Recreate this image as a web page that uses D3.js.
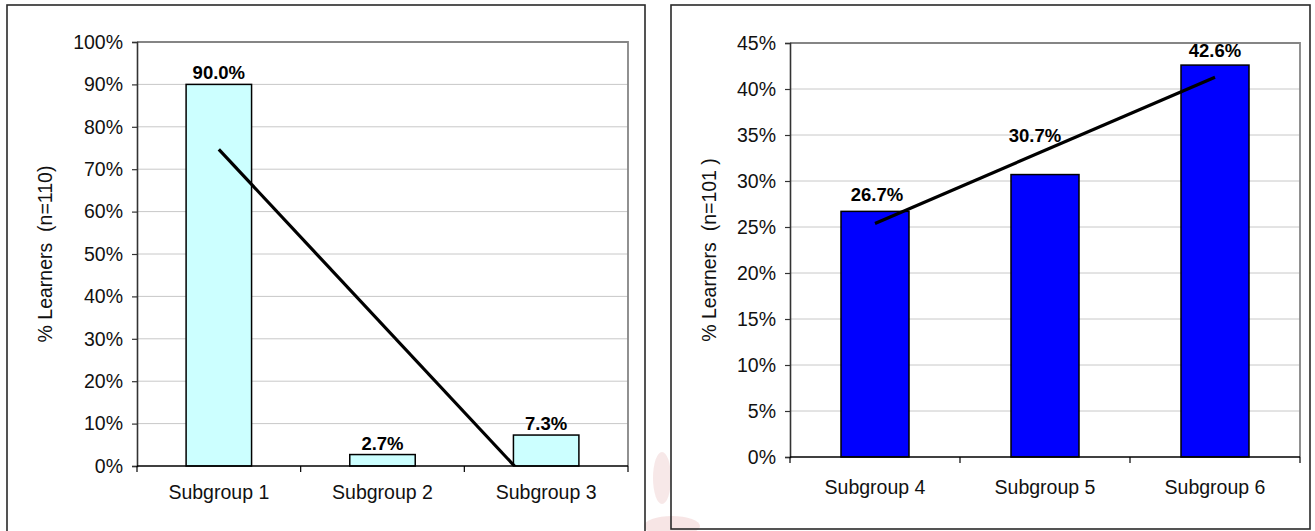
<!DOCTYPE html>
<html>
<head>
<meta charset="utf-8">
<script src="https://cdn.jsdelivr.net/npm/d3@7"></script>
<style>
  html, body { margin: 0; padding: 0; background: #fff; }
  svg { display: block; font-family: "Liberation Sans", Arial, sans-serif; }
</style>
</head>
<body>
<svg id="chart" width="1315" height="531"></svg>
<script>
// ---------- data ----------
const categoriesA = ["Subgroup 1", "Subgroup 2", "Subgroup 3"];
const valuesA = [90.0, 2.7, 7.3];
const ticksA = [0, 10, 20, 30, 40, 50, 60, 70, 80, 90, 100];
const titleA = "% Learners  (n=110)";

const categoriesB = ["Subgroup 4", "Subgroup 5", "Subgroup 6"];
const valuesB = [26.7, 30.7, 42.6];
const ticksB = [0, 5, 10, 15, 20, 25, 30, 35, 40, 45];
const titleB = "% Learners  (n=101 )";

// ---------- layout ----------
const svg = d3.select("#chart");
let clipId = 0;
const FS = 19.5;

function drawChart(cfg) {
  const g = svg.append("g");
  // outer frame
  g.append("rect")
    .attr("x", cfg.box[0]).attr("y", cfg.box[1])
    .attr("width", cfg.box[2]).attr("height", cfg.box[3])
    .attr("fill", "none").attr("stroke", "#2a2a2a").attr("stroke-width", 1.6);

  const [x0, y0, x1, y1] = cfg.plot;
  const y = d3.scaleLinear().domain([0, cfg.ymax]).range([y1, y0]);
  const x = d3.scaleBand().domain(cfg.categories).range([x0, x1])
    .paddingInner(0.6).paddingOuter(0.3);

  // gridlines
  g.append("g").selectAll("line").data(cfg.ticks.filter(t => t > 0 && t < cfg.ymax)).join("line")
    .attr("x1", x0).attr("x2", x1)
    .attr("y1", d => y(d)).attr("y2", d => y(d))
    .attr("stroke", "#c8c8c8").attr("stroke-width", 1);

  // plot top / right border
  g.append("path")
    .attr("d", `M${x0},${y0}H${x1}V${y1}`)
    .attr("fill", "none").attr("stroke", "#858585").attr("stroke-width", 1.8);

  // bars
  g.append("g").selectAll("rect").data(cfg.values).join("rect")
    .attr("x", (d, i) => x(cfg.categories[i]))
    .attr("width", x.bandwidth())
    .attr("y", d => y(d))
    .attr("height", d => y(0) - y(d))
    .attr("fill", cfg.fill).attr("stroke", "#000").attr("stroke-width", 1.5);

  // y axis
  const ya = g.append("g").attr("transform", `translate(${x0},0)`)
    .call(d3.axisLeft(y).tickValues(cfg.ticks).tickFormat(d => d + "%")
      .tickSize(5).tickPadding(9));
  ya.select(".domain").attr("stroke", "#333").attr("stroke-width", 1.6);
  ya.selectAll(".tick line").attr("stroke", "#333").attr("stroke-width", 1.2);
  ya.selectAll("text").attr("font-size", FS).attr("fill", "#111")
    .attr("font-family", "Liberation Sans, Arial, sans-serif");

  // x axis labels
  const xa = g.append("g").attr("transform", `translate(0,${y1})`)
    .call(d3.axisBottom(x).tickSize(0).tickPadding(cfg.xLabelPad));
  xa.select(".domain").remove();
  xa.selectAll("text").attr("font-size", FS).attr("fill", "#111")
    .attr("font-family", "Liberation Sans, Arial, sans-serif");

  // x axis line + boundary ticks
  const bounds = d3.range(cfg.categories.length + 1).map(i => x0 + i * x.step());
  g.append("line").attr("x1", x0).attr("x2", x1).attr("y1", y1).attr("y2", y1)
    .attr("stroke", "#000").attr("stroke-width", 1.6);
  g.append("g").selectAll("line").data(bounds).join("line")
    .attr("x1", d => d).attr("x2", d => d).attr("y1", y1).attr("y2", y1 + 6)
    .attr("stroke", "#000").attr("stroke-width", 1.2);

  // linear trendline (least squares on category index)
  const n = cfg.values.length;
  const xs = d3.range(1, n + 1);
  const mx = d3.mean(xs), my = d3.mean(cfg.values);
  const slope = d3.sum(xs, (v, i) => (v - mx) * (cfg.values[i] - my)) / d3.sum(xs, v => (v - mx) ** 2);
  const icpt = my - slope * mx;
  const cx = i => x(cfg.categories[i - 1]) + x.bandwidth() / 2;
  const id = "clip" + (clipId++);
  g.append("clipPath").attr("id", id).append("rect")
    .attr("x", x0).attr("y", y0).attr("width", x1 - x0).attr("height", y1 - y0);
  g.append("line")
    .attr("clip-path", `url(#${id})`)
    .attr("x1", cx(1)).attr("y1", y(icpt + slope * 1))
    .attr("x2", cx(n)).attr("y2", y(icpt + slope * n))
    .attr("stroke", "#000").attr("stroke-width", 3.2).attr("stroke-linecap", "butt");

  // data labels
  g.append("g").selectAll("text").data(cfg.values).join("text")
    .attr("x", (d, i) => x(cfg.categories[i]) + x.bandwidth() / 2 + (cfg.labelOffsets[i] || [0, 0])[0])
    .attr("y", (d, i) => y(d) - cfg.labelGap + (cfg.labelOffsets[i] || [0, 0])[1])
    .attr("text-anchor", "middle").attr("font-weight", "bold").attr("font-size", 18.5)
    .attr("fill", "#000")
    .text(d => d.toFixed(1) + "%");

  // y axis title
  g.append("text")
    .attr("transform", `translate(${cfg.titleX},${(y0 + y1) / 2}) rotate(-90)`)
    .attr("text-anchor", "middle").attr("dominant-baseline", "central")
    .attr("font-size", FS).attr("fill", "#111")
    .style("white-space", "pre")
    .text(cfg.title);
}

// faint watermark decoration between the charts
const wm = svg.append("g").attr("opacity", 0.18);
wm.append("ellipse").attr("cx", 662).attr("cy", 478).attr("rx", 9).attr("ry", 26).attr("fill", "#d08080");
wm.append("ellipse").attr("cx", 672).attr("cy", 526).attr("rx", 28).attr("ry", 10).attr("fill", "#d07070");

drawChart({
  categories: categoriesA, values: valuesA, ticks: ticksA, ymax: 100, title: titleA,
  fill: "#CCFFFF",
  box: [7, 5, 638, 540],
  plot: [137, 42, 628, 466],
  xLabelPad: 19, labelGap: 5, titleX: 45,
  labelOffsets: []
});

drawChart({
  categories: categoriesB, values: valuesB, ticks: ticksB, ymax: 45, title: titleB,
  fill: "#0000FF",
  box: [671, 5, 639, 524],
  plot: [790, 43, 1300, 457],
  xLabelPad: 23, labelGap: 10, titleX: 709,
  labelOffsets: [[2, 0], [-10, -23], [0, 2]]
});
</script>
</body>
</html>
